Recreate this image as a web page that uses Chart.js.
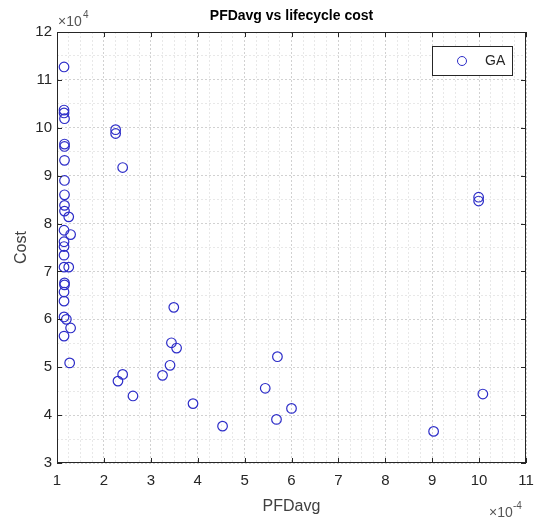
<!DOCTYPE html>
<html><head><meta charset="utf-8">
<script src="https://cdn.jsdelivr.net/npm/chart.js@4.4.0/dist/chart.umd.min.js"></script>
<style>html,body{margin:0;padding:0;background:#fff;}</style>
</head><body>
<canvas id="c" width="537" height="523" style="width:537px;height:523px;display:block"></canvas>
<script>
// PFDavg values (x 1e-4) and lifecycle cost values (x 1e4)
const pfdAvg = [
  1.15, 1.15, 1.15, 1.16, 1.16, 1.16, 1.16, 1.16, 1.16, 1.16,
  1.16, 1.25, 1.15, 1.29, 1.15, 1.15, 1.15, 1.15, 1.25, 1.16,
  1.16, 1.15, 1.15, 1.15, 1.20, 1.29, 1.15, 1.27,
  2.25, 2.25, 2.40, 2.30, 2.40, 2.62, 3.25, 3.41, 3.44, 3.55,
  3.49, 3.90, 4.53, 5.44, 5.70, 5.68, 6.00, 9.03, 10.08, 9.99, 9.99
];
const cost = [
  11.27, 10.37, 10.31, 10.19, 9.66, 9.61, 9.32, 8.90, 8.60, 8.38,
  8.26, 8.14, 7.86, 7.77, 7.62, 7.52, 7.34, 7.09, 7.09, 6.76,
  6.72, 6.57, 6.38, 6.05, 6.00, 5.82, 5.65, 5.09,
  9.96, 9.88, 9.17, 4.71, 4.85, 4.40, 4.83, 5.04, 5.51, 5.40,
  6.25, 4.24, 3.77, 4.56, 5.22, 3.91, 4.14, 3.66, 4.44, 8.55, 8.47
];
const seriesLabel = 'GA';
const xTicks = [1,2,3,4,5,6,7,8,9,10,11];
const yTicks = [3,4,5,6,7,8,9,10,11,12];
const titleText = 'PFDavg vs lifecycle cost';
const xTitle = 'PFDavg';
const yTitle = 'Cost';

const FONT = '"Liberation Sans", Arial, Helvetica, sans-serif';
const MARK = 'rgb(45,45,200)';
const isInt = v => Math.abs(v - Math.round(v)) < 1e-6;

const points = pfdAvg.map((x, i) => ({x, y: cost[i]}));

const decor = {
  id: 'decor',
  afterDraw(chart) {
    const ctx = chart.ctx, a = chart.chartArea;
    const xs = chart.scales.x, ys = chart.scales.y;
    ctx.save();
    // frame
    ctx.strokeStyle = '#262626';
    ctx.lineWidth = 1;
    ctx.strokeRect(Math.round(a.left) + 0.5, Math.round(a.top) + 0.5,
                   Math.round(a.right - a.left) - 1, Math.round(a.bottom - a.top) - 1);
    // inward tick marks
    const tl = 5;
    ctx.beginPath();
    xTicks.forEach(v => {
      const p = Math.round(xs.getPixelForValue(v)) + 0.5;
      ctx.moveTo(p, a.bottom); ctx.lineTo(p, a.bottom - tl);
      ctx.moveTo(p, a.top); ctx.lineTo(p, a.top + tl);
    });
    yTicks.forEach(v => {
      const p = Math.round(ys.getPixelForValue(v)) + 0.5;
      ctx.moveTo(a.left, p); ctx.lineTo(a.left + tl, p);
      ctx.moveTo(a.right, p); ctx.lineTo(a.right - tl, p);
    });
    ctx.stroke();

    // title
    ctx.fillStyle = '#000';
    ctx.font = 'bold 14px ' + FONT;
    ctx.textAlign = 'center'; ctx.textBaseline = 'middle';
    ctx.fillText(titleText, (a.left + a.right) / 2, 16);

    // axis titles
    ctx.fillStyle = '#404040';
    ctx.font = '16px ' + FONT;
    ctx.fillText(xTitle, (a.left + a.right) / 2, 507);
    ctx.save();
    ctx.translate(22, (a.top + a.bottom) / 2);
    ctx.rotate(-Math.PI / 2);
    ctx.fillText(yTitle, 0, 0);
    ctx.restore();

    // exponent labels
    ctx.fillStyle = '#555';
    ctx.textAlign = 'left'; ctx.textBaseline = 'alphabetic';
    ctx.font = '14px ' + FONT;
    ctx.fillText('\u00d710', a.left + 1, 26);
    ctx.font = '10px ' + FONT;
    ctx.fillText('4', a.left + 26, 18);
    ctx.font = '14px ' + FONT;
    ctx.fillText('\u00d710', 489, 517);
    ctx.font = '10px ' + FONT;
    ctx.fillText('-4', 513, 509);

    // legend
    const lx = 432, ly = 46, lw = 80, lh = 29;
    ctx.fillStyle = '#fff';
    ctx.fillRect(lx, ly, lw, lh);
    ctx.strokeStyle = '#262626';
    ctx.lineWidth = 1;
    ctx.strokeRect(lx + 0.5, ly + 0.5, lw, lh);
    ctx.strokeStyle = MARK;
    ctx.beginPath();
    ctx.arc(462, ly + lh / 2 + 0.5, 4.5, 0, Math.PI * 2);
    ctx.stroke();
    ctx.fillStyle = '#262626';
    ctx.font = '14px ' + FONT;
    ctx.textAlign = 'left'; ctx.textBaseline = 'middle';
    ctx.fillText(seriesLabel, 485, ly + lh / 2 + 1);
    ctx.restore();
  }
};

const gridColor = c => isInt(c.tick.value) ? 'rgba(0,0,0,0.18)' : 'rgba(0,0,0,0.09)';

new Chart(document.getElementById('c'), {
  type: 'scatter',
  data: {
    datasets: [{
      label: seriesLabel,
      data: points,
      pointStyle: 'circle',
      pointRadius: 4.8,
      pointHoverRadius: 4.8,
      borderWidth: 1.2,
      borderColor: MARK,
      backgroundColor: 'rgba(0,0,0,0)'
    }]
  },
  options: {
    responsive: false,
    animation: false,
    devicePixelRatio: 1,
    layout: { padding: { top: 32, right: 11, left: 0, bottom: 0 } },
    plugins: { legend: { display: false }, title: { display: false }, tooltip: { enabled: false } },
    scales: {
      x: {
        type: 'linear', min: 1, max: 11,
        afterFit: s => { s.height = 60; s.paddingLeft = 0; s.paddingRight = 0; },
        ticks: {
          stepSize: 0.25, autoSkip: false, maxRotation: 0, padding: 9,
          color: '#262626', font: { family: FONT, size: 15 },
          callback: v => isInt(v) ? String(Math.round(v)) : ''
        },
        grid: { drawTicks: false, color: gridColor, lineWidth: 1 },
        border: { display: false, dash: [2, 2] }
      },
      y: {
        type: 'linear', min: 3, max: 12,
        afterFit: s => { s.width = 57; s.paddingTop = 0; s.paddingBottom = 0; },
        ticks: {
          stepSize: 0.5, autoSkip: false, padding: 5,
          color: '#262626', font: { family: FONT, size: 15 },
          callback: v => isInt(v) ? String(Math.round(v)) : ''
        },
        grid: { drawTicks: false, color: gridColor, lineWidth: 1 },
        border: { display: false, dash: [2, 2] }
      }
    }
  },
  plugins: [decor]
});
</script>
</body></html>
